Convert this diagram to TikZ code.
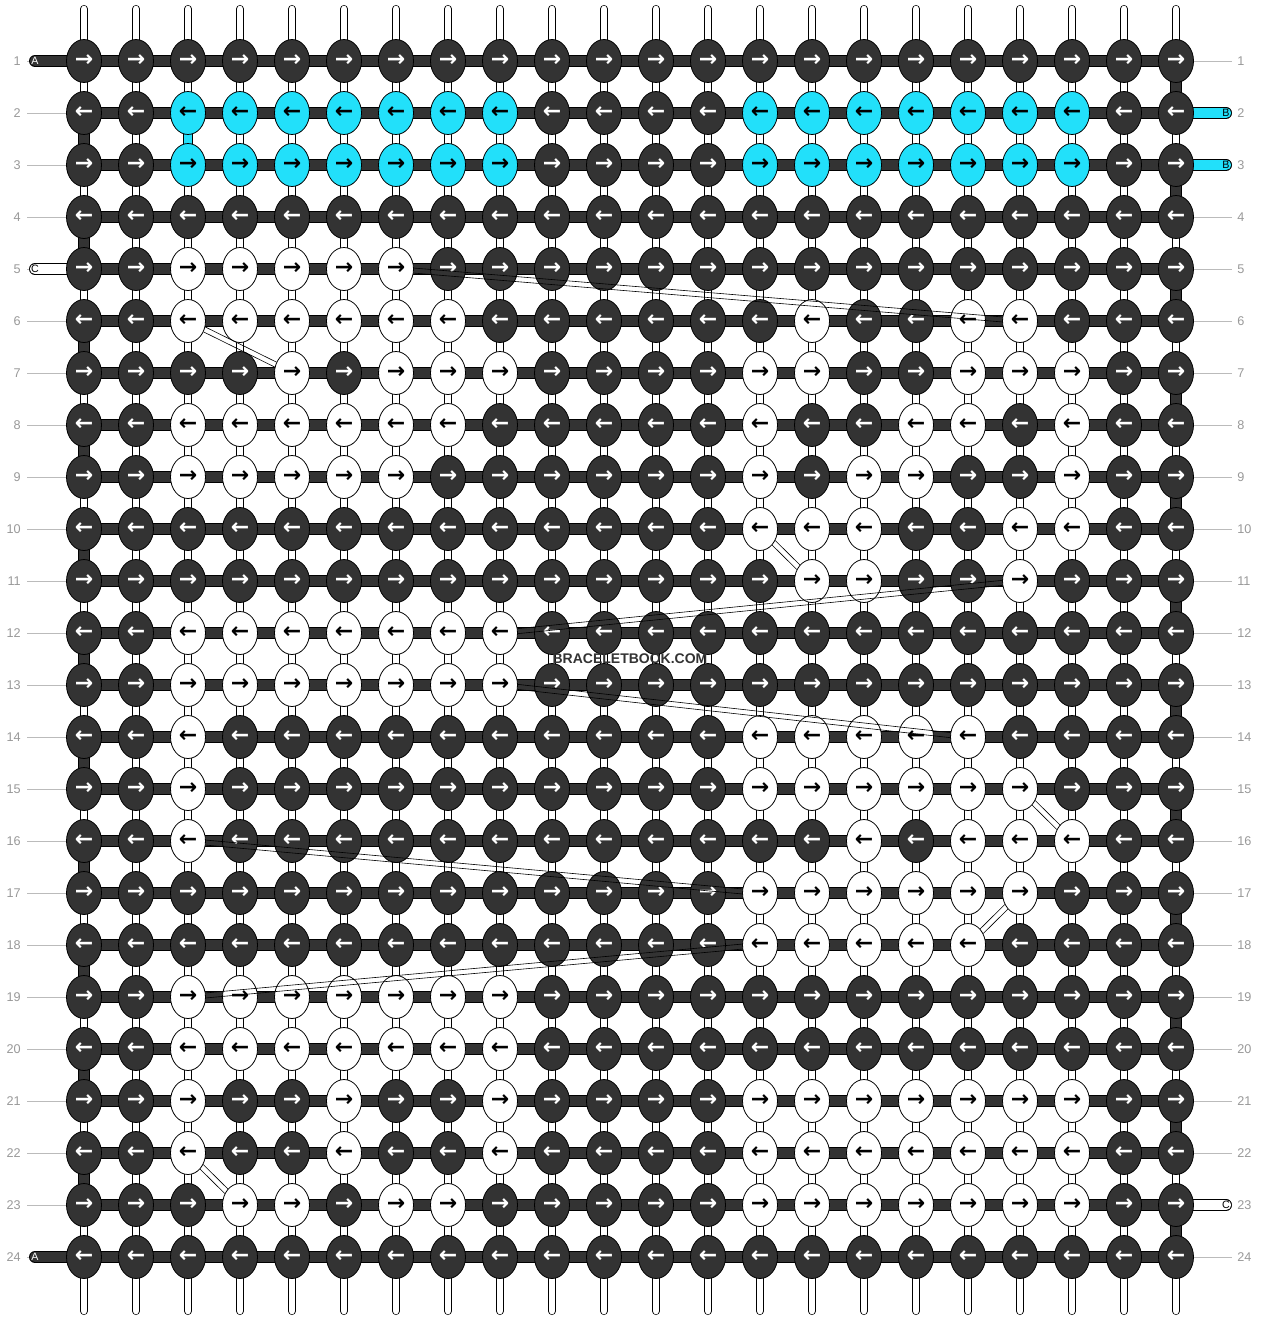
\documentclass[tikz,border=0pt]{standalone}
\usepackage{fontspec}
\setmainfont{Liberation Sans}
\newfontfamily\arrowfont{DejaVu Sans}
\usetikzlibrary{shapes.geometric,backgrounds}

\definecolor{knotdark}{HTML}{333333}
\definecolor{knotcyan}{HTML}{22E0FA}
\definecolor{numgray}{HTML}{999999}
\definecolor{linegray}{HTML}{BBBBBB}

\tikzstyle{knot}=[ellipse, draw=black, line width=0.6pt, minimum width=26.25pt, minimum height=32.25pt, inner sep=0pt, font=\arrowfont\bfseries\fontsize{16.5}{16.5}\selectfont]
\tikzstyle{rowbar}=[draw=black, line width=0.6pt, double=knotdark, double distance=7.8pt]
\tikzstyle{vstring}=[draw=black, line width=0.5pt, double=white, double distance=5pt, line cap=round]
\tikzstyle{vcore}=[draw=black!25, line width=0.3pt, double=white, double distance=1.2pt]
\tikzstyle{rownum}=[text=numgray, font=\fontsize{9.5}{9.5}\selectfont, inner sep=0pt]
\tikzstyle{labelline}=[draw=linegray, line width=0.6pt]
\tikzstyle{tabtext}=[font=\fontsize{8}{8}\selectfont, inner sep=0pt]
\tikzstyle{tabdark}=[rowbar, line cap=round]
\tikzstyle{tabwhite}=[rowbar, double=white, line cap=round]
\tikzstyle{tabcyan}=[rowbar, double=knotcyan, line cap=round]
\tikzstyle{strandline}=[draw=black, line width=0.45pt]
\tikzstyle{watermark}=[text=knotdark, font=\bfseries\fontsize{10.5}{10.5}\selectfont, inner sep=0pt]

% two thin lines of a strand that skips over knots
\newcommand{\strand}[4]{%
  \pgfmathtruncatemacro\aup{#3+8}\pgfmathtruncatemacro\adn{#3-8}%
  \pgfmathtruncatemacro\bup{#4-8}\pgfmathtruncatemacro\bdn{#4+8}%
  \draw[strandline] (#1.\aup) -- (#2.\bup);
  \draw[strandline] (#1.\adn) -- (#2.\bdn);
}

\begin{document}
\begin{tikzpicture}[x=0.75pt, y=-0.75pt]
\useasboundingbox (0,0) rectangle (1260,1320);
\begin{pgfonlayer}{background}
\fill[white] (0,0) rectangle (1260,1320);
\end{pgfonlayer}

% white and cyan knots, the rest is dark
\foreach \r/\cols in {5/{3,4,5,6,7}, 6/{3,4,5,6,7,8,15,18,19}, 7/{5,7,8,9,14,15,18,19,20},
  8/{3,4,5,6,7,8,14,17,18,20}, 9/{3,4,5,6,7,14,16,17,20}, 10/{14,15,16,19,20}, 11/{15,16,19},
  12/{3,4,5,6,7,8,9}, 13/{3,4,5,6,7,8,9}, 14/{3,14,15,16,17,18}, 15/{3,14,15,16,17,18,19},
  16/{3,16,18,19,20}, 17/{14,15,16,17,18,19}, 18/{14,15,16,17,18}, 19/{3,4,5,6,7,8,9},
  20/{3,4,5,6,7,8,9}, 21/{3,6,9,14,15,16,17,18,19,20}, 22/{3,6,9,14,15,16,17,18,19,20},
  23/{4,5,7,8,14,15,16,17,18,19,20}}{
  \foreach \c in \cols {\expandafter\gdef\csname kc@\r-\c\endcsname{white}}
}
\foreach \r in {2,3}{
  \foreach \c in {3,4,5,6,7,8,9,14,15,16,17,18,19,20}{\expandafter\gdef\csname kc@\r-\c\endcsname{knotcyan}}
}

% knots
\foreach \r in {1,...,24}{
  \foreach \c in {1,...,22}{
    \ifcsname kc@\r-\c\endcsname
      \edef\kfill{\csname kc@\r-\c\endcsname}\def\ktext{black}%
    \else
      \def\kfill{knotdark}\def\ktext{white}%
    \fi
    \ifodd\r \def\karr{→}\else \def\karr{←}\fi
    \node[knot, fill=\kfill, text=\ktext] (k\r-\c) at ({84+52*(\c-1)},{61+52*(\r-1)}) {\karr};
  }
}

% row numbers
\foreach \r in {1,...,24}{
  \node[rownum, anchor=east] (nl\r) at (21,{61+52*(\r-1)}) {\r};
  \node[rownum, anchor=west] (nr\r) at (1237,{61+52*(\r-1)}) {\r};
}

% string ends
\node[tabtext, text=white] (tA1) at (35,61) {A};
\node[tabtext, text=white] (tA24) at (35,1257) {A};
\node[tabtext] (tC5) at (35,269) {C};
\node[tabtext] (tB2) at (1226,113) {B};
\node[tabtext] (tB3) at (1226,165) {B};
\node[tabtext] (tC23) at (1226,1205) {C};

\begin{pgfonlayer}{background}
\foreach \r in {1,...,24}{
  \draw[labelline, shorten <=4.5pt] (nl\r.east) -- (k\r-1.west);
  \draw[labelline, shorten >=3.75pt] (k\r-22.east) -- (nr\r.west);
}
\foreach \c in {1,...,22}{
  \coordinate (st\c) at ({84+52*(\c-1)},9);
  \coordinate (sb\c) at ({84+52*(\c-1)},1311);
  \draw[vstring] (st\c) -- (sb\c);
  \draw[vcore] ([yshift=-2pt]st\c) -- ([yshift=2pt]sb\c);
}
\foreach \r in {1,...,24}
  \draw[rowbar] (k\r-1.center) -- (k\r-22.center);
\foreach \r in {2,4,...,22}{
  \pgfmathtruncatemacro\rn{\r+1}
  \draw[rowbar] (k\r-1.center) -- (k\rn-1.center);
}
\foreach \r in {1,3,...,23}{
  \pgfmathtruncatemacro\rn{\r+1}
  \draw[rowbar] (k\r-22.center) -- (k\rn-22.center);
}
\draw[rowbar, double=knotcyan, double distance=6pt] (k2-3.center) -- (k3-3.center);
\draw[tabdark] (tA1.center) -- (k1-1.center);
\draw[tabdark] (tA24.center) -- (k24-1.center);
\draw[tabwhite] (tC5.center) -- (k5-1.center);
\draw[tabcyan] (k2-22.center) -- (tB2.center);
\draw[tabcyan] (k3-22.center) -- (tB3.center);
\draw[tabwhite] (k23-22.center) -- (tC23.center);
\end{pgfonlayer}

% skipped strands
\strand{k5-7}{k6-19}{-5}{175}
\strand{k6-3}{k7-5}{-27}{153}
\strand{k10-14}{k11-15}{-45}{135}
\strand{k11-19}{k12-9}{186}{6}
\strand{k13-9}{k14-18}{-6}{174}
\strand{k15-19}{k16-20}{-45}{135}
\strand{k16-3}{k17-14}{-5}{175}
\strand{k18-18}{k17-19}{45}{225}
\strand{k18-14}{k19-3}{185}{5}
\strand{k22-3}{k23-4}{-45}{135}

\node[watermark] (wm) at (630,659) {BRACELETBOOK.COM};
\end{tikzpicture}
\end{document}
